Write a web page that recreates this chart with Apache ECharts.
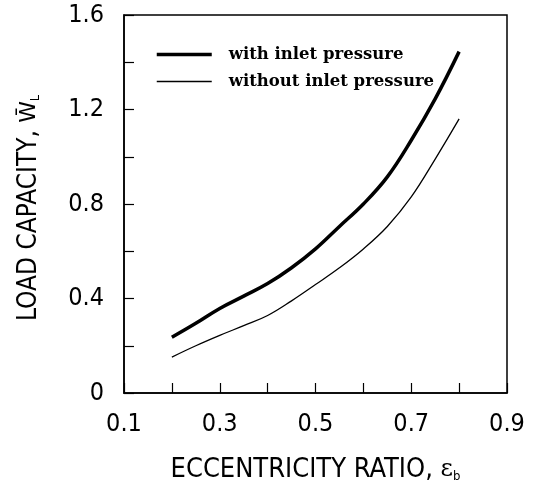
<!DOCTYPE html>
<html>
<head>
<meta charset="utf-8">
<script src="https://cdn.jsdelivr.net/npm/echarts@6/dist/echarts.min.js"></script>
<style>html,body{margin:0;padding:0;background:#fff;}#c{width:541px;height:488px;}</style>
</head>
<body>
<div id="c"></div>
<script>
var xValues = [0.2, 0.25, 0.3, 0.35, 0.4, 0.45, 0.5, 0.55, 0.6, 0.65, 0.7, 0.75, 0.8];
var withInlet = [0.236, 0.295, 0.358, 0.41, 0.463, 0.53, 0.61, 0.705, 0.80, 0.915, 1.07, 1.245, 1.445];
var withoutInlet = [0.152, 0.20, 0.244, 0.285, 0.328, 0.39, 0.459, 0.53, 0.61, 0.705, 0.83, 0.99, 1.16];
var xTickLabels = ['0.1', '0.3', '0.5', '0.7', '0.9'];
var yTickLabels = ['0', '0.4', '0.8', '1.2', '1.6'];
var seriesNames = ['with inlet pressure', 'without inlet pressure'];

function pairs(xs, ys) { return xs.map(function (x, i) { return [x, ys[i]]; }); }
var narrow = "'Liberation Sans Narrow', 'DejaVu Sans Condensed', sans-serif";

var chart = echarts.init(document.getElementById('c'), null, { renderer: 'canvas' });
chart.setOption({
  animation: false,
  backgroundColor: '#fff',
  grid: { left: 124, right: 34, top: 15, bottom: 93, show: true, borderColor: '#000', borderWidth: 1.5, containLabel: false },
  legend: {
    orient: 'vertical', left: 155, top: 46, padding: 0, itemWidth: 55, itemHeight: 14, itemGap: 10,
    data: [
      { name: seriesNames[0], lineStyle: { color: '#000', width: 3.5 } },
      { name: seriesNames[1], lineStyle: { color: '#000', width: 1.3 } }
    ],
    itemStyle: { opacity: 0, color: 'rgba(0,0,0,0)', borderWidth: 0 },
    textStyle: { fontFamily: "'DejaVu Serif', 'Liberation Serif', serif", fontWeight: 'bold', fontSize: 16.5, color: '#000', padding: [0, 0, 0, 12] }
  },
  xAxis: {
    type: 'value', min: 0.1, max: 0.9, interval: 0.1,
    axisLine: { show: true, lineStyle: { color: '#000', width: 1.5 } },
    axisTick: { show: true, inside: true, length: 10, lineStyle: { color: '#000', width: 1.2 } },
    splitLine: { show: false },
    axisLabel: {
      margin: 19, color: '#000', fontFamily: narrow, fontSize: 25,
      formatter: function (v) {
        var s = (Math.round(v * 10) / 10).toFixed(1);
        return xTickLabels.indexOf(s) >= 0 ? s : '';
      }
    },
    name: 'ECCENTRICITY RATIO, {e|ε}{s|b}', nameLocation: 'middle', nameGap: 63,
    nameTextStyle: {
      color: '#000', fontFamily: narrow, fontSize: 27,
      rich: { e: { fontFamily: "'DejaVu Serif', serif", fontSize: 24, color: '#000' }, s: { fontSize: 13, color: '#000', verticalAlign: 'bottom', padding: [10, 0, 0, 0] } }
    }
  },
  yAxis: {
    type: 'value', min: 0, max: 1.6, interval: 0.2,
    axisLine: { show: true, lineStyle: { color: '#000', width: 1.5 } },
    axisTick: { show: true, inside: true, length: 10, lineStyle: { color: '#000', width: 1.2 } },
    splitLine: { show: false },
    axisLabel: {
      margin: 20, color: '#000', fontFamily: narrow, fontSize: 25, padding: [14, 0, 0, 0],
      formatter: function (v) {
        var r = Math.round(v * 10) / 10;
        var s = r === 0 ? '0' : r.toFixed(1);
        return yTickLabels.indexOf(s) >= 0 ? s : '';
      }
    },
    name: 'LOAD CAPACITY, {w|W\u0304}{s|L}', nameLocation: 'middle', nameGap: 82, nameRotate: 90,
    nameTextStyle: {
      color: '#000', fontFamily: narrow, fontSize: 26, padding: [0, 8, 0, 0],
      rich: { w: { fontFamily: "'DejaVu Sans', sans-serif", fontSize: 22, color: '#000' }, s: { fontSize: 12, color: '#000', verticalAlign: 'bottom' } }
    }
  },
  series: [
    { name: seriesNames[0], type: 'line', data: pairs(xValues, withInlet), smooth: 0.4, symbol: 'none', lineStyle: { color: '#000', width: 3.5 }, itemStyle: { color: '#000' } },
    { name: seriesNames[1], type: 'line', data: pairs(xValues, withoutInlet), smooth: 0.4, symbol: 'none', lineStyle: { color: '#000', width: 1.3 }, itemStyle: { color: '#000' } }
  ]
});
</script>
</body>
</html>
